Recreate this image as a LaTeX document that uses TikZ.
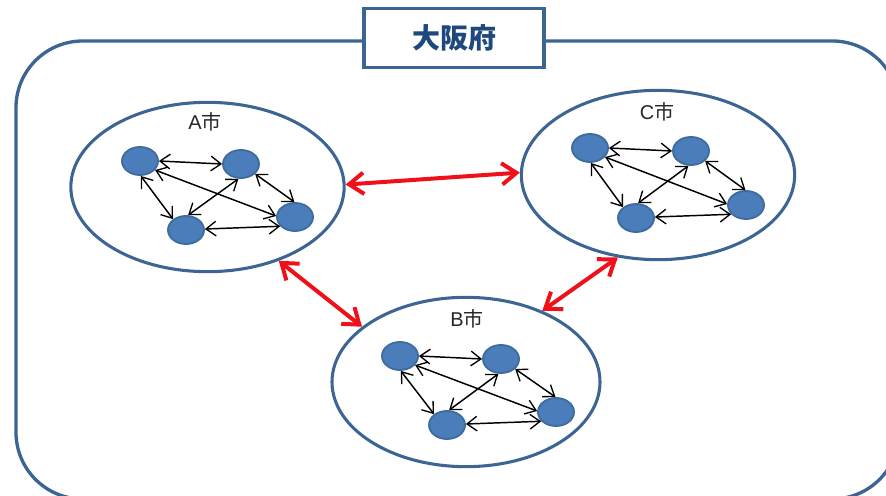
\documentclass[tikz,border=0pt]{standalone}
\usepackage{fontspec}
\setmainfont{Liberation Sans}
\newfontfamily\cjk{Noto Sans CJK JP}
\usetikzlibrary{shapes.geometric,arrows.meta}
\definecolor{framecol}{HTML}{3C6593}
\definecolor{dotfill}{HTML}{4A7DBA}
\definecolor{dotline}{HTML}{3F6C9F}
\definecolor{titlecol}{HTML}{1F497D}
\definecolor{linkred}{HTML}{F0101A}
\tikzset{
  x=0.75pt,y=-0.75pt,
  frameline/.style={draw=framecol,line width=2.5pt},
  city/.style={ellipse,draw=framecol,line width=2.3pt,fill=white,minimum width=205pt,minimum height=127pt,inner sep=0pt},
  member/.style={ellipse,draw=dotline,line width=1.4pt,fill=dotfill,minimum width=27pt,minimum height=21pt,inner sep=0pt},
  duplex/.style={{Straight Barb[length=7.5pt,width=11pt,line width=1pt]}-{Straight Barb[length=7.5pt,width=11pt,line width=1pt]},line width=1.1pt,black},
  redlink/.style={{Straight Barb[length=11pt,width=16pt,line width=3pt]}-{Straight Barb[length=11pt,width=16pt,line width=3pt]},line width=3pt,linkred},
  citylabel/.style={font=\fontsize{15pt}{17pt}\selectfont,inner sep=0pt,text=black!85}
}
\begin{document}
\begin{tikzpicture}
\useasboundingbox (0,0) rectangle (886,496);
\clip (0,0) rectangle (886,496);
\draw[frameline,rounded corners=50pt] (16,41) rectangle (899,499);
\node[draw=framecol,line width=2.5pt,fill=white,minimum width=135pt,minimum height=44pt,inner sep=0pt,font=\cjk\bfseries\fontsize{21pt}{24pt}\selectfont,text=titlecol] (title) at (454,38) {大阪府};

\node[city] (A) at (207.5,187) {};
\node[city] (C) at (658,175) {};
\node[city,minimum width=201pt] (B) at (466,382) {};

\node[citylabel] (Al) at (205,122) {A{\cjk 市}};
\node[citylabel] (Cl) at (657,112) {C{\cjk 市}};
\node[citylabel] (Bl) at (467,319) {B{\cjk 市}};

\node[member] (a1) at (140,161) {};
\node[member] (a2) at (241,164) {};
\node[member] (a3) at (295,217) {};
\node[member] (a4) at (186,230) {};
\node[member] (c1) at (590,148) {};
\node[member] (c2) at (691,151) {};
\node[member] (c3) at (746,205) {};
\node[member] (c4) at (636,218) {};
\node[member] (b1) at (400,356) {};
\node[member] (b2) at (501,359) {};
\node[member] (b3) at (556,412) {};
\node[member] (b4) at (447,425) {};

\foreach \p in {a,b,c}{
  \draw[duplex] (\p1.0) -- (\p2.180);
  \draw[duplex] (\p1.-31) -- (\p3.177);
  \draw[duplex] (\p1.-87) -- (\p4.140);
  \draw[duplex] (\p2.-35) -- (\p3.92);
  \draw[duplex] (\p2.-100) -- (\p4.82);
  \draw[duplex] (\p3.-148) -- (\p4.3);
}
\draw[redlink] (A.1) -- (C.179);
\draw[redlink] (A.-46) -- (B.152);
\draw[redlink] (B.43) -- (C.-116);
\end{tikzpicture}
\end{document}
